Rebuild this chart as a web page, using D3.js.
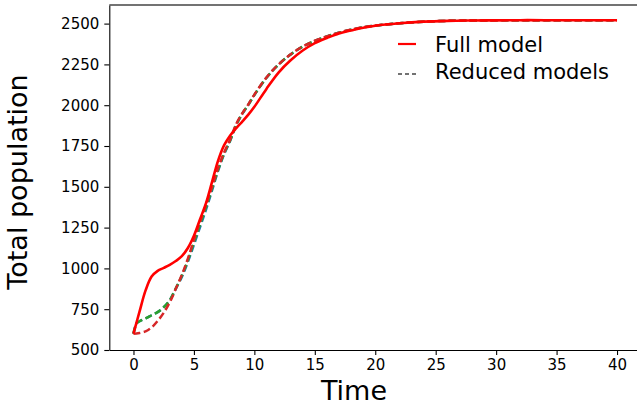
<!DOCTYPE html>
<html>
<head>
<meta charset="utf-8">
<script src="https://cdn.jsdelivr.net/npm/d3@7"></script>
<style>
  body { margin: 0; background: #fff; }
  svg { display: block; font-family: "DejaVu Sans", sans-serif; }
  .axis text { font-size: 15px; fill: #000; font-family: "DejaVu Sans", sans-serif; }
  .axis path, .axis line { stroke: #000; stroke-width: 1.1; }
</style>
</head>
<body>
<div id="chart"></div>
<script>
// values
const times = [0, 0.25, 0.5, 1, 1.5, 2, 2.5, 3, 3.5, 4, 4.5, 5, 5.5, 6, 6.5, 7, 7.5, 8, 8.5, 9, 9.5,
  10, 11, 12, 13, 14, 15, 16, 17, 18, 19, 20, 22, 24, 26, 28, 30, 32, 34, 36, 38, 40];

const fullModel = [600, 668, 735, 865, 950, 985, 1003, 1022, 1045, 1075, 1125, 1200, 1300, 1400, 1530,
  1660, 1755, 1815, 1860, 1900, 1942, 1990, 2100, 2200, 2275, 2335, 2380, 2412, 2440, 2458, 2475,
  2487, 2502, 2512, 2517, 2519, 2520, 2521, 2521, 2521, 2521, 2521];

const reducedBlue = [600, 662, 676, 694, 713, 732, 762, 805, 875, 948, 1040, 1145, 1252, 1360, 1478,
  1598, 1700, 1782, 1878, 1947, 2002, 2062, 2168, 2249, 2311, 2359, 2394, 2421, 2444, 2462, 2477,
  2488, 2502, 2512, 2517, 2519, 2520, 2521, 2521, 2521, 2521, 2521];

const reducedGreen = [600, 662, 676, 694, 713, 732, 762, 805, 878, 955, 1050, 1160, 1268, 1375, 1490,
  1605, 1705, 1785, 1880, 1948, 2003, 2063, 2168, 2249, 2311, 2359, 2394, 2421, 2444, 2462, 2477,
  2488, 2502, 2512, 2517, 2519, 2520, 2521, 2521, 2521, 2521, 2521];

const reducedRed = [600, 601, 604, 614, 638, 678, 728, 792, 875, 960, 1060, 1175, 1285, 1390, 1500,
  1615, 1710, 1790, 1885, 1950, 2005, 2065, 2170, 2250, 2312, 2360, 2395, 2422, 2445, 2463, 2478,
  2488, 2502, 2512, 2517, 2519, 2520, 2521, 2521, 2521, 2521, 2521];

const xTicks = [0, 5, 10, 15, 20, 25, 30, 35, 40];
const yTicks = [500, 750, 1000, 1250, 1500, 1750, 2000, 2250, 2500];
const legendLabels = ["Full model", "Reduced models"];

const W = 637, H = 407;
const margin = { top: 5, left: 109.3, bottom: 57 };
const plotW = 641.2 - margin.left;
const plotH = H - margin.top - margin.bottom;

const svg = d3.select("#chart").append("svg")
  .attr("width", W)
  .attr("height", H);

const g = svg.append("g")
  .attr("transform", `translate(${margin.left},${margin.top})`);

const x = d3.scaleLinear().domain([-2, 42]).range([0, plotW]);
const y = d3.scaleLinear().domain([500, 2614]).range([plotH, 0]);

// lines
const line = d3.line()
  .x((d, i) => x(times[i]))
  .y(d => y(d))
  .curve(d3.curveCatmullRom.alpha(0.5));

const reduced = [
  { values: reducedBlue, color: "#1f77b4" },
  { values: reducedGreen, color: "#2ca02c" },
  { values: reducedRed, color: "#d62728" }
];

g.selectAll(".reduced")
  .data(reduced)
  .enter().append("path")
  .attr("class", "reduced")
  .attr("d", d => line(d.values))
  .attr("fill", "none")
  .attr("stroke", d => d.color)
  .attr("stroke-width", 2.5)
  .attr("stroke-dasharray", "7,3.5");

g.append("path")
  .attr("d", line(fullModel))
  .attr("fill", "none")
  .attr("stroke", "#ff0000")
  .attr("stroke-width", 2.6);

// axes
g.append("g")
  .attr("class", "axis")
  .attr("transform", `translate(0,${plotH})`)
  .call(d3.axisBottom(x).tickValues(xTicks).tickFormat(d3.format("d"))
    .tickSize(5).tickPadding(4).tickSizeOuter(0));

g.append("g")
  .attr("class", "axis")
  .call(d3.axisLeft(y).tickValues(yTicks).tickFormat(d3.format("d"))
    .tickSize(5).tickPadding(5).tickSizeOuter(0));

// top and right spines
g.append("line")
  .attr("x1", 0).attr("x2", plotW)
  .attr("y1", 0).attr("y2", 0)
  .attr("stroke", "#444").attr("stroke-width", 1.6);
g.append("line")
  .attr("x1", plotW).attr("x2", plotW)
  .attr("y1", 0).attr("y2", plotH)
  .attr("stroke", "#000").attr("stroke-width", 1.1);

// axis labels
svg.append("text")
  .attr("x", 354)
  .attr("y", 400)
  .attr("text-anchor", "middle")
  .style("font-size", "27px")
  .text("Time");

svg.append("text")
  .attr("transform", "translate(27,182) rotate(-90)")
  .attr("text-anchor", "middle")
  .style("font-size", "27px")
  .text("Total population");

// legend
const legend = svg.append("g").attr("transform", "translate(398,0)");
legend.append("line")
  .attr("x1", 0).attr("x2", 18).attr("y1", 44).attr("y2", 44)
  .attr("stroke", "#ff0000").attr("stroke-width", 2.2);
legend.append("line")
  .attr("x1", 0).attr("x2", 18).attr("y1", 74).attr("y2", 74)
  .attr("stroke", "#444").attr("stroke-width", 1.4)
  .attr("stroke-dasharray", "4,3");

legend.selectAll(".leg")
  .data(legendLabels)
  .enter().append("text")
  .attr("class", "leg")
  .attr("x", 37)
  .attr("y", (d, i) => 52 + i * 27)
  .style("font-size", "21px")
  .text(d => d);
</script>
</body>
</html>
